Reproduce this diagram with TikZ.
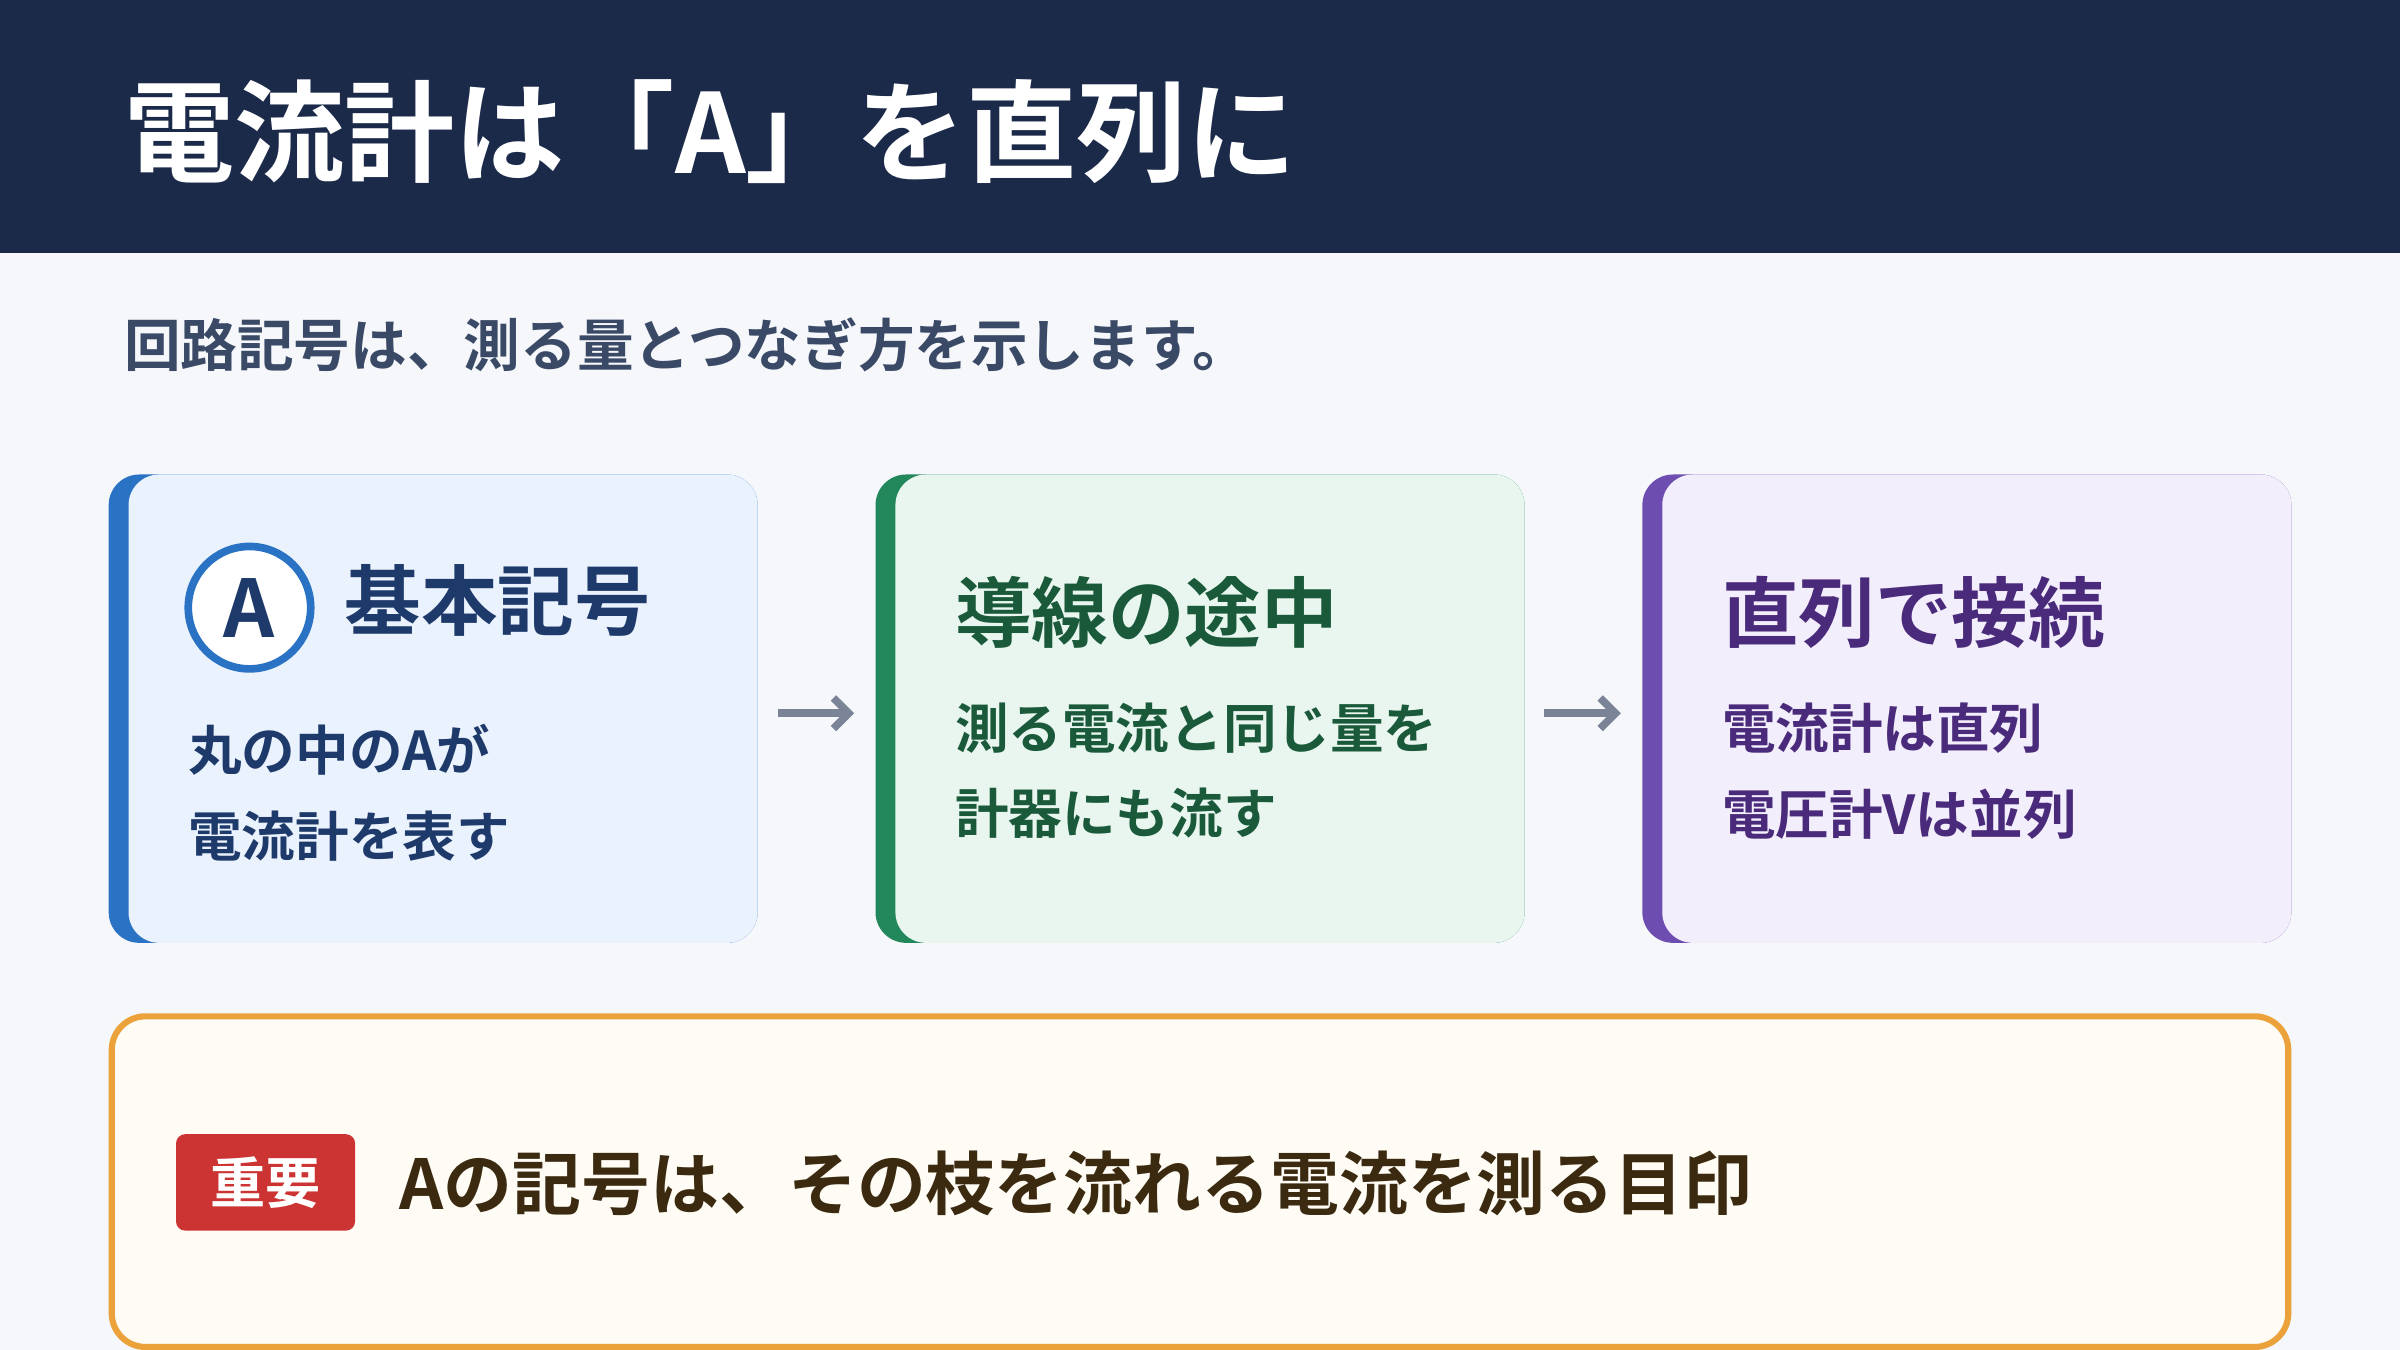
\documentclass[tikz,border=0pt]{standalone}
\usepackage{fontspec}
\usetikzlibrary{arrows.meta,calc}
\setmainfont{Noto Sans CJK JP}[BoldFont={Noto Sans CJK JP Bold}]
\definecolor{navy}{HTML}{1C2A4A}
\definecolor{bgc}{HTML}{F5F7FB}
\definecolor{subc}{HTML}{3A4A66}
\definecolor{f1}{HTML}{EAF2FE}\definecolor{b1}{HTML}{2A72C4}\definecolor{t1}{HTML}{1E3A6A}
\definecolor{f2}{HTML}{E8F6EF}\definecolor{b2}{HTML}{22875A}\definecolor{t2}{HTML}{1A5A3A}
\definecolor{f3}{HTML}{F3EEFC}\definecolor{b3}{HTML}{6E4DB0}\definecolor{t3}{HTML}{4A2A7A}
\definecolor{orn}{HTML}{EBA23A}\definecolor{cream}{HTML}{FEFCF5}\definecolor{brn}{HTML}{3B2A10}
\definecolor{redb}{HTML}{CC3333}\definecolor{arr}{HTML}{7A8496}
\begin{document}
\begin{tikzpicture}[x=0.5pt,y=-0.5pt,
  head/.style={anchor=west,font=\bfseries\fontsize{25}{30}\selectfont},
  body/.style={anchor=north west,align=left,font=\bfseries\fontsize{17.5}{28}\selectfont},
  conn/.style={arr,line width=2.5pt,-{Straight Barb[length=5pt]}}]
\fill[bgc] (0,0) rectangle (1568,882);
\fill[navy] (0,0) rectangle (1568,165);
\node[anchor=west,white,font=\bfseries\fontsize{36}{44}\selectfont] (title) at (74,86) {電流計は「A」を直列に};
\node[anchor=west,subc,font=\bfseries\fontsize{18.5}{22}\selectfont] (sub) at (74,225) {回路記号は、測る量とつなぎ方を示します。};
% cards
\foreach \x/\f/\b in {71/f1/b1,572/f2/b2,1073/f3/b3}{
  \fill[\b,rounded corners=10pt] (\x,310) rectangle ++(424,306);
  \fill[\f,rounded corners=10pt] (\x+13,310) rectangle ++(411,306);
}
\coordinate (c1) at (495,466); \coordinate (c2) at (572,466);
\coordinate (c3) at (996,466); \coordinate (c4) at (1073,466);
\draw[conn] ($(c1)+(13,0)$) -- ($(c2)+(-14,0)$);
\draw[conn] ($(c3)+(13,0)$) -- ($(c4)+(-14,0)$);
\node[circle,draw=b1,line width=2.5pt,fill=white,minimum size=40pt,inner sep=0,text=t1,font=\bfseries\fontsize{26}{30}\selectfont] (sym) at (163,397) {A};
\node[head,t1] (h1) at (218,392) {基本記号};
\node[body,t1] (d1) at (116,466) {丸の中のAが\\電流計を表す};
\node[head,t2] (h2) at (617,400) {導線の途中};
\node[body,t2] (d2) at (617,452) {測る電流と同じ量を\\計器にも流す};
\node[head,t3] (h3) at (1118,400) {直列で接続};
\node[body,t3] (d3) at (1118,452) {電流計は直列\\電圧計Vは並列};
% bottom
\draw[orn,line width=2pt,fill=cream,rounded corners=11pt] (73,664) rectangle (1495,880);
\node[fill=redb,rounded corners=3pt,text=white,minimum width=58.5pt,minimum height=31.5pt,inner sep=0,font=\bfseries\fontsize{18}{20}\selectfont] (badge) at (173.5,772.5) {重要};
\node[anchor=west,brn,font=\bfseries\fontsize{22.5}{26}\selectfont] (msg) at (254,773) {Aの記号は、その枝を流れる電流を測る目印};
\end{tikzpicture}
\end{document}
